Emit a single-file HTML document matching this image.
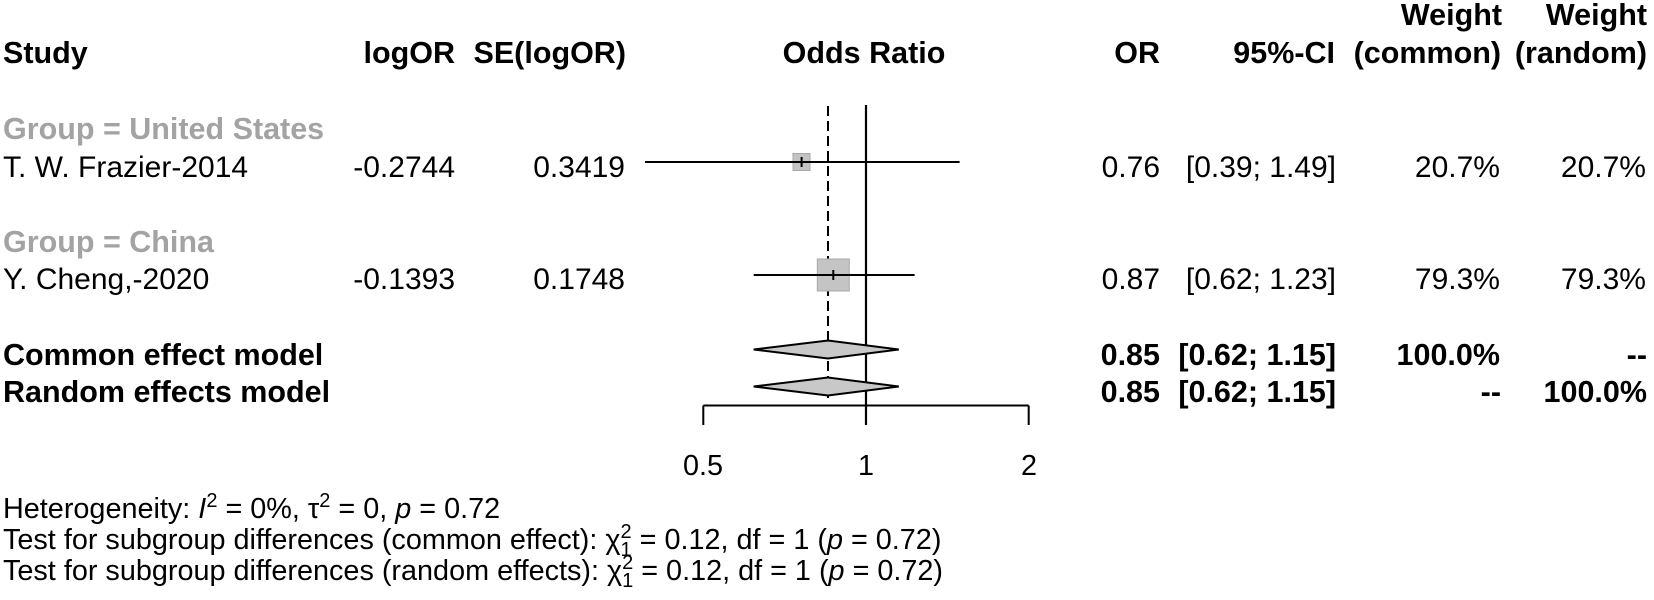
<!DOCTYPE html>
<html>
<head>
<meta charset="utf-8">
<style>
  html, body { margin: 0; padding: 0; background: #ffffff; }
  svg { display: block; }
  .r { font-family: "Liberation Sans", Arial, sans-serif; font-size: 30px; fill: #000; }
  .b { font-family: "Liberation Sans", Arial, sans-serif; font-size: 30.5px; font-weight: bold; fill: #000; }
  .g { font-family: "Liberation Sans", Arial, sans-serif; font-size: 30.5px; font-weight: bold; fill: #a3a3a3; }
  .s { font-family: "Liberation Sans", Arial, sans-serif; font-size: 28.8px; fill: #000; }
  .e { text-anchor: end; }
  .m { text-anchor: middle; }
</style>
</head>
<body>
<svg width="1654" height="600" viewBox="0 0 1654 600" xmlns="http://www.w3.org/2000/svg">
  <rect x="0" y="0" width="1654" height="600" fill="#ffffff"/>

  <!-- Header row 1 -->
  <text class="b e" x="1502" y="25">Weight</text>
  <text class="b e" x="1647" y="25">Weight</text>

  <!-- Header row 2 -->
  <text class="b" x="3" y="63">Study</text>
  <text class="b e" x="455" y="63">logOR</text>
  <text class="b e" x="626" y="63">SE(logOR)</text>
  <text class="b m" x="864" y="63">Odds Ratio</text>
  <text class="b e" x="1160" y="63">OR</text>
  <text class="b e" x="1335" y="63">95%-CI</text>
  <text class="b e" x="1501" y="63">(common)</text>
  <text class="b e" x="1647" y="63">(random)</text>

  <!-- Group US -->
  <text class="g" x="3" y="139">Group = United States</text>
  <!-- Frazier -->
  <text class="r" x="3" y="177">T. W. Frazier-2014</text>
  <text class="r e" x="455" y="177">-0.2744</text>
  <text class="r e" x="625" y="177">0.3419</text>
  <text class="r e" x="1160" y="177">0.76</text>
  <text class="r e" x="1336" y="177">[0.39; 1.49]</text>
  <text class="r e" x="1500" y="177">20.7%</text>
  <text class="r e" x="1646" y="177">20.7%</text>

  <!-- Group China -->
  <text class="g" x="3" y="252">Group = China</text>
  <!-- Cheng -->
  <text class="r" x="3" y="289">Y. Cheng,-2020</text>
  <text class="r e" x="455" y="289">-0.1393</text>
  <text class="r e" x="625" y="289">0.1748</text>
  <text class="r e" x="1160" y="289">0.87</text>
  <text class="r e" x="1336" y="289">[0.62; 1.23]</text>
  <text class="r e" x="1500" y="289">79.3%</text>
  <text class="r e" x="1646" y="289">79.3%</text>

  <!-- Common effect -->
  <text class="b" x="3" y="365">Common effect model</text>
  <text class="b e" x="1160" y="365">0.85</text>
  <text class="b e" x="1336" y="365">[0.62; 1.15]</text>
  <text class="b e" x="1500" y="365">100.0%</text>
  <text class="b e" x="1647" y="365">--</text>

  <!-- Random effects -->
  <text class="b" x="3" y="402">Random effects model</text>
  <text class="b e" x="1160" y="402">0.85</text>
  <text class="b e" x="1336" y="402">[0.62; 1.15]</text>
  <text class="b e" x="1501" y="402">--</text>
  <text class="b e" x="1647" y="402">100.0%</text>

  <!-- Reference lines -->
  <line x1="866" y1="105" x2="866" y2="425" stroke="#000" stroke-width="2.2"/>
  <line x1="828" y1="106" x2="828" y2="398" stroke="#000" stroke-width="2" stroke-dasharray="10 5"/>

  <!-- Frazier CI + square -->
  <rect x="793" y="153.5" width="17" height="17" fill="#c4c4c4" stroke="#a8a8a8" stroke-width="1"/>
  <line x1="645" y1="162" x2="959.6" y2="162" stroke="#000" stroke-width="2"/>
  <line x1="801.6" y1="157" x2="801.6" y2="167" stroke="#000" stroke-width="2"/>

  <!-- Cheng CI + square -->
  <rect x="817.3" y="259" width="32" height="32" fill="#c4c4c4" stroke="#a8a8a8" stroke-width="1"/>
  <line x1="753.7" y1="275" x2="914.6" y2="275" stroke="#000" stroke-width="2"/>
  <line x1="833.3" y1="270" x2="833.3" y2="280" stroke="#000" stroke-width="2"/>

  <!-- Diamonds -->
  <polygon points="753.7,349.5 828,340.5 898.8,349.5 828,358.5" fill="#c8c8c8" stroke="#000" stroke-width="2"/>
  <polygon points="753.7,386.5 828,377.5 898.8,386.5 828,395.5" fill="#c8c8c8" stroke="#000" stroke-width="2"/>

  <!-- Axis -->
  <line x1="703.3" y1="405.5" x2="1028.7" y2="405.5" stroke="#000" stroke-width="2"/>
  <line x1="703.3" y1="405.5" x2="703.3" y2="425" stroke="#000" stroke-width="2"/>
  <line x1="1028.7" y1="405.5" x2="1028.7" y2="425" stroke="#000" stroke-width="2"/>
  <text class="s m" x="703" y="475">0.5</text>
  <text class="s m" x="866" y="475">1</text>
  <text class="s m" x="1029" y="475">2</text>

  <!-- Bottom statistics -->
  <text class="s" x="3" y="518">Heterogeneity: <tspan font-style="italic">I</tspan><tspan dy="-11" font-size="20">2</tspan><tspan dy="11"> = 0%, τ</tspan><tspan dy="-11" font-size="20">2</tspan><tspan dy="11"> = 0, </tspan><tspan font-style="italic">p</tspan><tspan> = 0.72</tspan></text>

  <text class="s" x="3" y="549">Test for subgroup differences (common effect): χ<tspan dy="-11" font-size="20">2</tspan><tspan dx="-11.1" dy="18" font-size="20">1</tspan><tspan dy="-7"> = 0.12, df = 1 (</tspan><tspan font-style="italic">p</tspan><tspan> = 0.72)</tspan></text>

  <text class="s" x="3" y="580">Test for subgroup differences (random effects): χ<tspan dy="-11" font-size="20">2</tspan><tspan dx="-11.1" dy="18" font-size="20">1</tspan><tspan dy="-7"> = 0.12, df = 1 (</tspan><tspan font-style="italic">p</tspan><tspan> = 0.72)</tspan></text>
</svg>
</body>
</html>
